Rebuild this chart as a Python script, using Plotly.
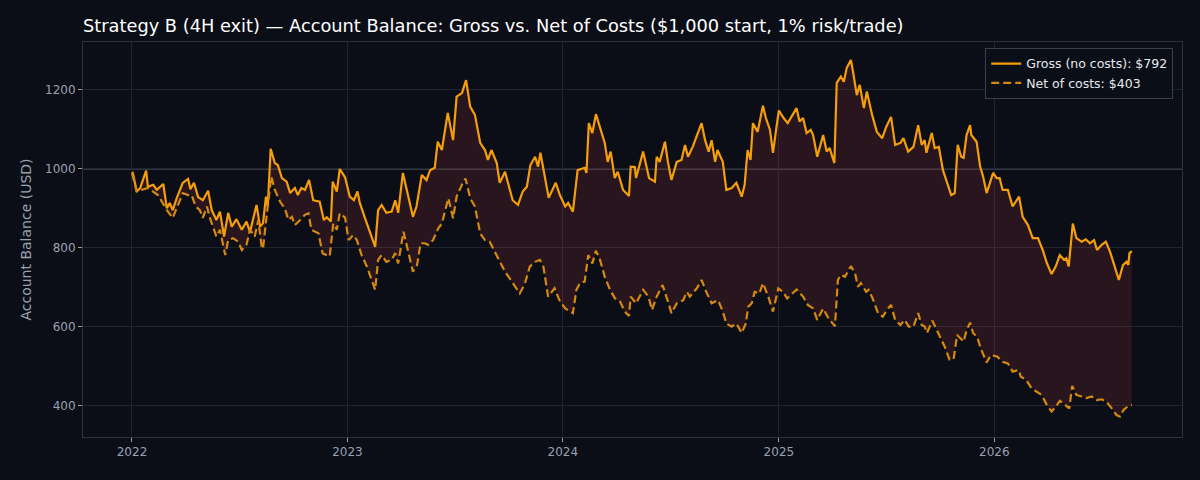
import pandas as pd
import plotly.graph_objects as go

# days since 2022-01-01 and balance (USD)
gross_days = [1, 8, 14, 24, 27, 36, 42, 53, 59, 64, 69, 76, 86, 95, 99, 105, 112, 120, 129, 135,
              143, 149, 156, 163, 169, 177, 186, 194, 200, 211, 217, 222, 227, 230, 235, 242, 247, 254, 262, 268,
              276, 281, 287, 293, 300, 307, 318, 325, 330, 337, 340, 347, 352, 361, 369, 376, 382, 386, 394, 403,
              412, 417, 423, 431, 440, 446, 451, 459, 468, 476, 482, 491, 499, 505, 513, 518, 525, 535, 544, 550,
              559, 566, 573, 581, 590, 598, 603, 609, 618, 623, 632, 637, 645, 654, 662, 669, 675, 683, 688, 692,
              700, 706, 718, 725, 734, 739, 747, 755, 767, 770, 774, 780, 786, 793, 801, 806, 811, 818, 823, 832,
              842, 845, 852, 854, 866, 876, 886, 889, 894, 903, 908, 914, 923, 931, 937, 942, 950, 965, 971, 977,
              982, 988, 992, 1001, 1007, 1016, 1024, 1033, 1038, 1043, 1048, 1052, 1060, 1069, 1074, 1081, 1086, 1092, 1096, 1104,
              1111, 1126, 1131, 1137, 1143, 1150, 1154, 1161, 1171, 1177, 1182, 1190, 1194, 1201, 1206, 1211, 1218, 1222, 1228, 1233,
              1240, 1245, 1254, 1262, 1271, 1278, 1286, 1293, 1302, 1307, 1315, 1324, 1332, 1338, 1343, 1346, 1355, 1360, 1367, 1374,
              1381, 1388, 1394, 1399, 1405, 1409, 1414, 1420, 1422, 1431, 1437, 1442, 1448, 1459, 1465, 1470, 1475, 1484, 1492, 1503,
              1509, 1518, 1526, 1535, 1543, 1550, 1558, 1565, 1572, 1579, 1583, 1587, 1594, 1600, 1609, 1616, 1623, 1630, 1635, 1643,
              1650, 1657, 1665, 1672, 1679, 1685, 1688, 1690, 1694]
gross_vals = [993, 943, 952, 996, 955, 960, 947, 962, 901, 914, 896, 927, 965, 975, 949, 965, 929, 921, 945, 896,
              871, 892, 829, 889, 854, 873, 846, 867, 841, 909, 854, 863, 930, 905, 1051, 1015, 1010, 977, 968, 939,
              952, 934, 952, 947, 972, 921, 917, 871, 878, 867, 968, 943, 1000, 979, 930, 921, 943, 914, 879, 838,
              803, 896, 909, 889, 892, 921, 889, 990, 930, 879, 905, 985, 972, 997, 1003, 1069, 1048, 1142, 1073, 1183,
              1192, 1225, 1158, 1137, 1066, 1048, 1023, 1048, 1015, 965, 993, 965, 921, 909, 943, 955, 1010, 1031, 1006, 1041,
              981, 927, 965, 934, 905, 914, 892, 997, 1003, 990, 1116, 1091, 1139, 1107, 1066, 1018, 1044, 977, 993, 947,
              932, 1006, 1005, 977, 1044, 977, 968, 1031, 1018, 1069, 1018, 972, 1018, 1023, 1061, 1031, 1056, 1116, 1073, 1044,
              1073, 1018, 1048, 1018, 947, 952, 965, 930, 960, 1048, 1023, 1116, 1094, 1160, 1129, 1099, 1041, 1107, 1148, 1129,
              1116, 1154, 1120, 1129, 1091, 1099, 1086, 1031, 1086, 1044, 1053, 1015, 1218, 1234, 1221, 1256, 1276, 1243, 1187, 1213,
              1154, 1196, 1137, 1094, 1078, 1107, 1132, 1061, 1066, 1078, 1044, 1056, 1111, 1061, 1073, 1041, 1091, 1053, 1056, 997,
              968, 934, 939, 1061, 1031, 1028, 1086, 1111, 1086, 1069, 1006, 981, 939, 990, 977, 977, 947, 947, 905, 930,
              879, 858, 825, 825, 795, 762, 734, 753, 782, 770, 774, 753, 862, 825, 816, 822, 812, 820, 795, 808,
              816, 791, 753, 719, 757, 765, 757, 787, 792]

net_days = [0, 8, 27, 44, 59, 69, 78, 86, 95, 101, 108, 115, 120, 127, 132, 143, 149, 158, 163, 171,
            180, 186, 194, 200, 208, 214, 220, 222, 228, 232, 236, 242, 251, 259, 265, 271, 276, 285, 293, 299,
            304, 316, 323, 330, 335, 341, 347, 352, 361, 367, 375, 381, 389, 398, 406, 412, 417, 423, 431, 440,
            446, 451, 460, 468, 476, 483, 489, 496, 502, 510, 519, 525, 536, 544, 550, 559, 565, 573, 581, 590,
            598, 606, 615, 623, 632, 640, 649, 657, 666, 674, 683, 691, 697, 705, 716, 725, 734, 747, 753, 759,
            767, 773, 780, 786, 793, 801, 810, 818, 827, 835, 842, 845, 854, 866, 875, 881, 889, 899, 909, 914,
            923, 934, 940, 945, 957, 965, 973, 982, 993, 1001, 1007, 1016, 1024, 1033, 1040, 1044, 1050, 1055, 1063, 1069,
            1078, 1086, 1095, 1103, 1110, 1126, 1137, 1145, 1154, 1161, 1171, 1180, 1191, 1196, 1201, 1208, 1218, 1225, 1230, 1235,
            1244, 1248, 1255, 1264, 1272, 1279, 1286, 1293, 1302, 1309, 1316, 1324, 1332, 1338, 1343, 1347, 1356, 1363, 1368, 1377,
            1385, 1392, 1398, 1405, 1409, 1414, 1420, 1425, 1432, 1438, 1448, 1455, 1466, 1475, 1484, 1492, 1502, 1506, 1515, 1524,
            1532, 1541, 1550, 1558, 1565, 1572, 1581, 1588, 1593, 1600, 1609, 1617, 1626, 1634, 1643, 1651, 1660, 1668, 1674, 1680,
            1688, 1694]
net_vals = [990, 943, 952, 934, 896, 876, 909, 939, 934, 934, 905, 896, 876, 905, 876, 829, 846, 782, 820, 825,
            816, 795, 808, 846, 829, 871, 799, 799, 879, 938, 981, 947, 917, 900, 871, 879, 858, 871, 884, 888,
            846, 837, 786, 782, 779, 862, 846, 888, 877, 820, 833, 820, 782, 753, 719, 694, 770, 782, 765, 770,
            787, 761, 841, 787, 740, 757, 812, 812, 808, 820, 850, 862, 926, 875, 930, 960, 976, 926, 905, 837,
            820, 816, 791, 765, 740, 723, 702, 685, 711, 753, 765, 770, 753, 677, 698, 665, 647, 635, 694, 711,
            715, 782, 761, 793, 770, 727, 694, 673, 664, 639, 628, 677, 660, 694, 677, 643, 677, 706, 660, 635,
            660, 668, 689, 677, 698, 719, 689, 660, 668, 639, 609, 601, 609, 585, 609, 651, 660, 689, 685, 711,
            677, 639, 698, 689, 672, 695, 677, 656, 647, 618, 647, 622, 602, 719, 732, 727, 754, 736, 702, 711,
            689, 694, 672, 635, 626, 643, 656, 618, 605, 618, 601, 601, 635, 605, 601, 585, 616, 594, 577, 550,
            518, 518, 580, 569, 563, 592, 611, 585, 575, 546, 510, 529, 525, 512, 508, 487, 491, 474, 466, 445,
            436, 428, 403, 386, 398, 413, 403, 394, 451, 428, 424, 420, 424, 415, 417, 411, 394, 377, 373, 390,
            400, 403]

start = pd.Timestamp("2022-01-01")
gross_dates = start + pd.to_timedelta(gross_days, unit="D")
net_dates = start + pd.to_timedelta(net_days, unit="D")

year_ticks = ["2022-01-01", "2023-01-01", "2024-01-01", "2025-01-01", "2026-01-01"]
year_labels = ["2022", "2023", "2024", "2025", "2026"]
y_ticks = [400, 600, 800, 1000, 1200]

BG = "#0b0e17"
GRID = "#1f2431"
SPINE = "#2b3140"
TICK = "#9aa1b1"
GROSS = "#f59e0b"
NET = "#d68910"

fig = go.Figure()

# fill between gross and net
fig.add_trace(go.Scatter(x=net_dates, y=net_vals, mode="lines", line=dict(width=0),
                         showlegend=False, hoverinfo="skip"))
fig.add_trace(go.Scatter(x=gross_dates, y=gross_vals, mode="lines", line=dict(width=0),
                         fill="tonexty", fillcolor="rgba(239,68,68,0.13)",
                         showlegend=False, hoverinfo="skip"))

fig.add_trace(go.Scatter(x=gross_dates, y=gross_vals, mode="lines",
                         name="Gross (no costs): $792",
                         line=dict(color=GROSS, width=2.2)))
fig.add_trace(go.Scatter(x=net_dates, y=net_vals, mode="lines",
                         name="Net of costs: $403",
                         line=dict(color=NET, width=2.2, dash="8px,4px")))

fig.add_hline(y=1000, line=dict(color="#5b6272", width=1.2), layer="below")

fig.update_layout(
    width=1200, height=480,
    paper_bgcolor=BG, plot_bgcolor=BG,
    margin=dict(l=83, r=18, t=42, b=43),
    font=dict(family="DejaVu Sans", color=TICK, size=12),
    title=dict(text="Strategy B (4H exit) — Account Balance: Gross vs. Net of Costs ($1,000 start, 1% risk/trade)",
               x=83 / 1200, xanchor="left", y=1 - 26 / 480, yanchor="middle",
               font=dict(size=17.8, color="#ffffff")),
    legend=dict(x=0.992, xanchor="right", y=0.985, yanchor="top", traceorder="normal",
                bgcolor="rgba(11,14,23,0.85)", bordercolor="#3a4050", borderwidth=1,
                font=dict(size=12.5, color="#e6e8ee"), tracegroupgap=2),
    showlegend=True,
)

fig.update_xaxes(
    type="date", range=["2021-10-10", "2026-11-15"],
    tickvals=year_ticks, ticktext=year_labels,
    showgrid=True, gridcolor=GRID, gridwidth=1,
    showline=True, linecolor=SPINE, linewidth=1, mirror=True,
    ticks="outside", ticklen=4, tickcolor=TICK, zeroline=False,
    tickfont=dict(size=12, color=TICK),
)
fig.update_yaxes(
    range=[321.5, 1321.5], tickvals=y_ticks,
    showgrid=True, gridcolor=GRID, gridwidth=1,
    showline=True, linecolor=SPINE, linewidth=1, mirror=True,
    ticks="outside", ticklen=4, tickcolor=TICK, zeroline=False,
    tickfont=dict(size=12, color=TICK),
    title=dict(text="Account Balance (USD)", font=dict(size=14, color=TICK), standoff=10),
)

fig.write_html("out.html", config={"displayModeBar": False},
               post_script="document.body.style.margin='0';document.body.style.background='#0b0e17';")
